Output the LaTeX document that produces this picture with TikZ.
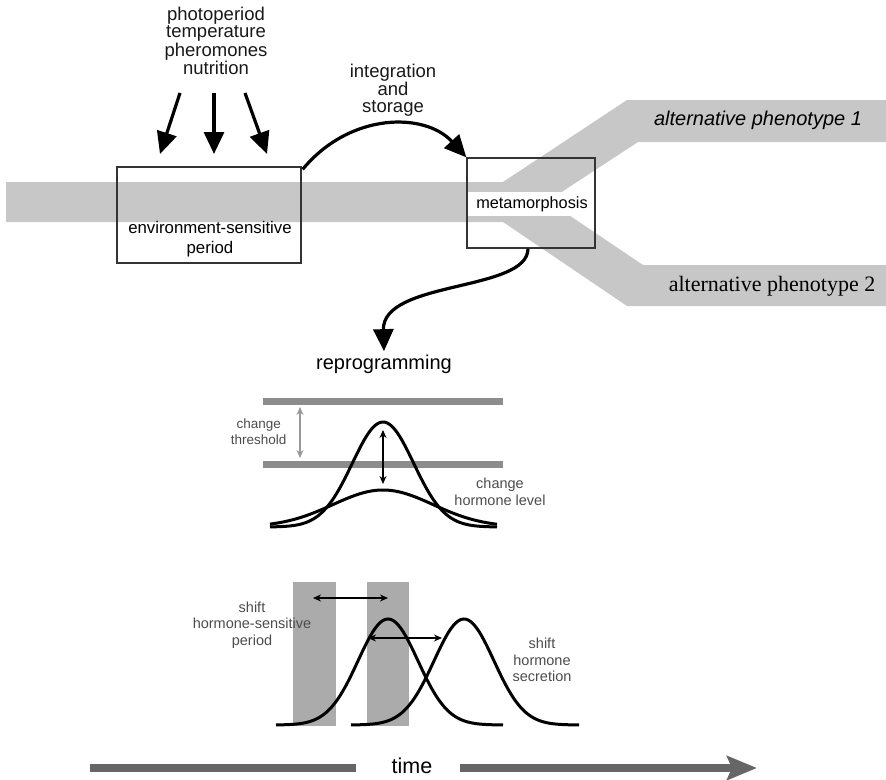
\documentclass[tikz,border=0pt]{standalone}
\usepackage{fontspec}
\setmainfont{Liberation Sans}
\newfontfamily\serifph{Liberation Serif}
\usetikzlibrary{arrows.meta}
\begin{document}
\begin{tikzpicture}[x=1pt,y=-1pt,
  bandfill/.style={fill=black!22},
  thinbox/.style={draw=black!80, line width=1.3pt},
  bigarrow/.style={line width=3.2pt, -{Triangle[length=22pt,width=20pt]}},
  bell/.style={line width=3pt},
  thresh/.style={line width=7pt, draw=black!45},
  dbl/.style={line width=1.4pt, {Stealth[length=8pt,width=7pt]}-{Stealth[length=8pt,width=7pt]}},
  maintxt/.style={text=black!90, align=center, font=\fontsize{18.5}{17}\selectfont},
  smalltxt/.style={text=black!70, align=center, font=\fontsize{14.5}{16.5}\selectfont},
  timebar/.style={line width=8pt, draw=black!60}
]
\useasboundingbox (0,0) rectangle (886,779);

% developmental band with branches
\fill[bandfill] (6,182) -- (503,182) -- (627,100) -- (886,100) -- (886,142) -- (638,142)
  -- (548,201) -- (643,265) -- (886,265) -- (886,306) -- (627,306) -- (503,222) -- (6,222) -- cycle;

% boxes
\node[fill=white, inner sep=0pt, minimum width=125pt, minimum height=24pt] (metalabel) at (529.5,204) {};
\node[thinbox, minimum width=184pt, minimum height=96pt, inner sep=0pt] (env) at (209,215) {};
\node[thinbox, minimum width=128pt, minimum height=90pt, inner sep=0pt] (meta) at (531,203) {};
\node[font=\fontsize{16.3}{20}\selectfont] (metatxt) at (532,204) {metamorphosis};
\node[font=\fontsize{16.8}{20}\selectfont, align=center] (envtxt) at (210,239) {environment-sensitive\\period};

% top labels
\node[maintxt] (factors) at (216,41) {photoperiod\\temperature\\pheromones\\nutrition};
\node[maintxt] (integ) at (393,90) {integration\\and\\storage};
\node[font=\fontsize{20}{20}\selectfont\itshape] (ph1) at (758,120) {alternative phenotype 1};
\node[font=\fontsize{22}{22}\serifph\selectfont] (ph2) at (772,286) {alternative phenotype 2};

% environment arrows
\coordinate (a1s) at (180,93); \coordinate (a1e) at (160,154);
\coordinate (a2s) at (214,93); \coordinate (a2e) at (214,154);
\coordinate (a3s) at (245,93); \coordinate (a3e) at (267,154);
\draw[bigarrow] (a1s) -- (a1e);
\draw[bigarrow] (a2s) -- (a2e);
\draw[bigarrow] (a3s) -- (a3e);

% integration arrow
\draw[bigarrow] ([xshift=1pt,yshift=-3pt]env.north east) .. controls (350,112) and (425,112) .. (meta.north west);

% reprogramming
\node[font=\fontsize{20}{20}\selectfont] (reprog) at (384,364) {reprogramming};
\draw[bigarrow] ([xshift=-3pt]meta.south) .. controls (528,292) and (382,280) .. (reprog.north);

% threshold section
\coordinate (t1l) at (263,401); \coordinate (t1r) at (503,401);
\coordinate (t2l) at (263,464); \coordinate (t2r) at (503,464);
\draw[thresh] (t1l) -- (t1r);
\draw[thresh] (t2l) -- (t2r);
\coordinate (ga) at (300,407); \coordinate (gb) at (300,458);
\draw[dbl, draw=black!40] (ga) -- (gb);
\node[smalltxt, font=\fontsize{13.5}{16}\selectfont, anchor=east] (chth) at (290,432) {change\\threshold};
\draw[bell] plot[domain=270:497, samples=90] (\x, {527-105*exp(-((\x-383)^2)/(1885))});
\draw[bell] plot[domain=270:497, samples=90] (\x, {527-37*exp(-((\x-383)^2)/(5000))});
\coordinate (ba) at (383,430); \coordinate (bb) at (383,484);
\draw[dbl] (ba) -- (bb);
\node[smalltxt] (chhl) at (500,492) {change\\hormone level};

% shift section
\fill[black!33] (293,582) rectangle (336,726);
\fill[black!33] (367,582) rectangle (409,726);
\coordinate (sa) at (313,598); \coordinate (sb) at (388,598);
\draw[dbl] (sa) -- (sb);
\draw[bell] plot[domain=276:503, samples=90] (\x, {725-106*exp(-((\x-388)^2)/(1790))});
\draw[bell] plot[domain=351:579, samples=90] (\x, {725-106*exp(-((\x-464)^2)/(1790))});
\coordinate (ha) at (368,638); \coordinate (hb) at (442,638);
\draw[dbl] (ha) -- (hb);
\node[smalltxt] (shp) at (252,625) {shift\\hormone-sensitive\\period};
\node[smalltxt] (shs) at (542,660) {shift\\hormone\\secretion};

% time axis
\node[font=\fontsize{21.5}{21}\selectfont] (time) at (412,766) {time};
\coordinate (tl) at (90,768); \coordinate (tm1) at (356,768);
\coordinate (tm2) at (460,768); \coordinate (tr) at (757,768);
\draw[timebar] (tl) -- (tm1);
\draw[timebar, -{Stealth[length=30pt,width=24pt,inset=5pt]}] (tm2) -- (tr);
\end{tikzpicture}
\end{document}
